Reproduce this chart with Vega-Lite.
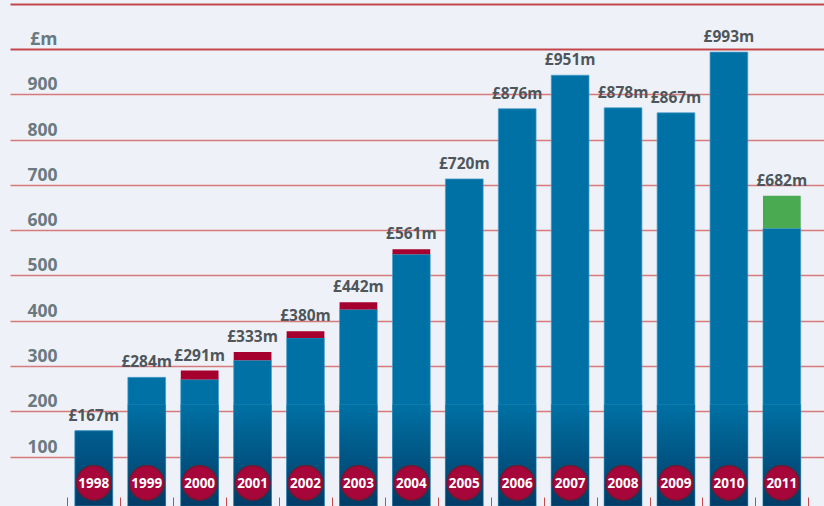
{
  "$schema": "https://vega.github.io/schema/vega-lite/v6.json",
  "width": 814,
  "height": 506,
  "autosize": {"type": "none"},
  "padding": {"left": 10, "top": 0, "right": 0, "bottom": 0},
  "background": "#eef2f8",
  "config": {"view": {"stroke": null}, "font": "Open Sans"},
  "data": {
    "values": [
      {"year": "1998", "blue": 157, "top": 157, "label": "£167m", "extra": "none"},
      {"year": "1999", "blue": 275, "top": 275, "label": "£284m", "extra": "none"},
      {"year": "2000", "blue": 270, "top": 290, "label": "£291m", "extra": "red"},
      {"year": "2001", "blue": 313, "top": 331, "label": "£333m", "extra": "red"},
      {"year": "2002", "blue": 362, "top": 377, "label": "£380m", "extra": "red"},
      {"year": "2003", "blue": 425, "top": 441, "label": "£442m", "extra": "red"},
      {"year": "2004", "blue": 547, "top": 558, "label": "£561m", "extra": "red"},
      {"year": "2005", "blue": 713, "top": 713, "label": "£720m", "extra": "none"},
      {"year": "2006", "blue": 868, "top": 868, "label": "£876m", "extra": "none"},
      {"year": "2007", "blue": 942, "top": 942, "label": "£951m", "extra": "none"},
      {"year": "2008", "blue": 870, "top": 870, "label": "£878m", "extra": "none"},
      {"year": "2009", "blue": 859, "top": 859, "label": "£867m", "extra": "none"},
      {"year": "2010", "blue": 993, "top": 993, "label": "£993m", "extra": "none"},
      {"year": "2011", "blue": 604, "top": 676, "label": "£682m", "extra": "green"}
    ]
  },
  "encoding": {
    "x": {
      "field": "year",
      "type": "nominal",
      "scale": {"paddingInner": 0, "paddingOuter": 0.69, "align": 0.785},
      "axis": {
        "title": null,
        "labels": false,
        "domain": false,
        "grid": false,
        "ticks": true,
        "tickBand": "extent",
        "tickSize": -9,
        "tickColor": "#c8484c",
        "tickWidth": 1
      }
    }
  },
  "layer": [
    {
      "mark": {"type": "bar", "width": {"band": 0.713}, "fill": "#0071a4", "stroke": "#4a9dca", "strokeWidth": 1, "strokeOpacity": 0.7},
      "encoding": {
        "y": {
          "field": "blue",
          "type": "quantitative",
          "title": null,
          "scale": {"domain": [-9, 1108], "nice": false, "zero": false},
          "axis": {
            "title": null,
            "values": [100, 200, 300, 400, 500, 600, 700, 800, 900, 1000, 1100],
            "labelExpr": "datum.value == 1000 ? '£m' : (datum.value == 1100 ? '' : datum.label)",
            "domain": false,
            "ticks": false,
            "tickSize": 0,
            "labelPadding": -47,
            "labelAlign": "right",
            "labelBaseline": "alphabetic",
            "labelOffset": -4.5,
            "labelFont": "Open Sans",
            "labelFontWeight": "bold",
            "labelFontSize": 17.5,
            "labelColor": "#6b7980",
            "grid": true,
            "gridColor": {"condition": {"test": "datum.value >= 1000", "value": "#c4464b"}, "value": "#d67a7c"},
            "gridWidth": {"condition": {"test": "datum.value >= 1000", "value": 2}, "value": 1.3}
          }
        },
        "y2": {"datum": -9}
      }
    },
    {
      "transform": [{"filter": "datum.year != '1998'"}],
      "mark": {
        "type": "bar",
        "width": {"band": 0.713},
        "fill": {
          "gradient": "linear", "x1": 0, "y1": 0, "x2": 0, "y2": 1,
          "stops": [{"offset": 0, "color": "#0071a4"}, {"offset": 1, "color": "#013c66"}]
        },
        "stroke": "#4a9dca", "strokeWidth": 1, "strokeOpacity": 0.25
      },
      "encoding": {
        "y": {"datum": 215, "type": "quantitative", "title": null},
        "y2": {"datum": -9}
      }
    },
    {
      "transform": [{"filter": "datum.year == '1998'"}],
      "mark": {
        "type": "bar",
        "width": {"band": 0.713},
        "fill": {
          "gradient": "linear", "x1": 0, "y1": 0, "x2": 0, "y2": 1,
          "stops": [{"offset": 0, "color": "#005e90"}, {"offset": 1, "color": "#013c66"}]
        },
        "stroke": "#4a9dca", "strokeWidth": 1, "strokeOpacity": 0.5
      },
      "encoding": {
        "y": {"field": "blue", "type": "quantitative", "title": null},
        "y2": {"datum": -9}
      }
    },
    {
      "transform": [{"filter": "datum.extra != 'none'"}],
      "mark": {"type": "bar", "width": {"band": 0.713}},
      "encoding": {
        "y": {"field": "top", "type": "quantitative", "title": null},
        "y2": {"field": "blue"},
        "color": {
          "field": "extra",
          "type": "nominal",
          "scale": {"domain": ["red", "green"], "range": ["#a6002f", "#4aaa52"]},
          "legend": null
        }
      }
    },
    {
      "mark": {
        "type": "text",
        "font": "Open Sans",
        "fontWeight": "bold",
        "fontSize": 15.5,
        "color": "#4f565b",
        "baseline": "alphabetic",
        "align": "center",
        "dy": -10
      },
      "encoding": {
        "y": {"field": "top", "type": "quantitative", "title": null},
        "text": {"field": "label"}
      }
    },
    {
      "mark": {
        "type": "point",
        "shape": "circle",
        "filled": true,
        "size": 1190,
        "fill": "#a6063a",
        "stroke": "#6f1a30",
        "strokeWidth": 1.5,
        "opacity": 1
      },
      "encoding": {
        "y": {"datum": 42, "type": "quantitative", "title": null}
      }
    },
    {
      "mark": {
        "type": "text",
        "font": "Open Sans",
        "fontWeight": "bold",
        "fontSize": 13.5,
        "color": "#ffffff",
        "baseline": "middle",
        "align": "center",
        "dy": 1
      },
      "encoding": {
        "y": {"datum": 42, "type": "quantitative", "title": null},
        "text": {"field": "year"}
      }
    }
  ]
}
